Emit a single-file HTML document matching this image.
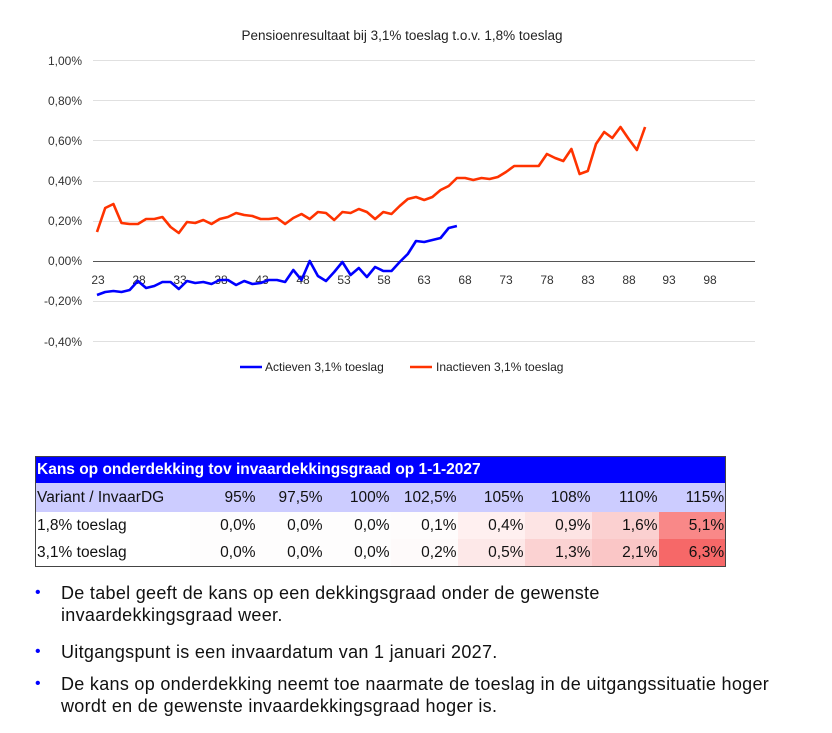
<!DOCTYPE html>
<html><head><meta charset="utf-8"><style>
body{margin:0;background:#fff;width:832px;height:733px;position:relative;overflow:hidden;font-family:"Liberation Sans",sans-serif;}
svg{position:absolute;left:0;top:0}
table{position:absolute;left:35px;top:456px;width:690px;table-layout:fixed;border-collapse:collapse;border:1px solid #444;font-size:15.5px;color:#111}
td{padding:0 1px 0 0;text-align:right;height:27px;white-space:nowrap;overflow:hidden}
td:first-child{text-align:left;padding-left:1px}
.h td{background:#0000ff;color:#fff;font-weight:bold;text-align:left;height:26px;font-size:15.5px}
.s td{background:#ccccff;height:29px}
.b{position:absolute;left:61px;font-size:18px;color:#111;line-height:22px;letter-spacing:0.3px;white-space:nowrap}
.b:before{content:"•";position:absolute;left:-26px;top:0;color:#0000ff;font-size:16px}
</style></head><body>
<svg width="832" height="440" font-family="Liberation Sans, sans-serif">
<text x="402" y="40" text-anchor="middle" font-size="13.5" fill="#222">Pensioenresultaat bij 3,1% toeslag t.o.v. 1,8% toeslag</text>
<g stroke="#e0e0e0" stroke-width="1">
<line x1="93" x2="755" y1="60.5" y2="60.5"/><line x1="93" x2="755" y1="100.5" y2="100.5"/><line x1="93" x2="755" y1="140.5" y2="140.5"/><line x1="93" x2="755" y1="181.5" y2="181.5"/><line x1="93" x2="755" y1="221.5" y2="221.5"/><line x1="93" x2="755" y1="301.5" y2="301.5"/><line x1="93" x2="755" y1="341.5" y2="341.5"/>
</g>
<line x1="93" x2="755" y1="261.5" y2="261.5" stroke="#555" stroke-width="1"/>
<g font-size="12" fill="#333" text-anchor="end">
<text x="82" y="65">1,00%</text><text x="82" y="105">0,80%</text><text x="82" y="145">0,60%</text><text x="82" y="185">0,40%</text><text x="82" y="225">0,20%</text><text x="82" y="265">0,00%</text><text x="82" y="305">-0,20%</text><text x="82" y="346">-0,40%</text>
</g>
<g font-size="12" fill="#333" text-anchor="middle">
<text x="98" y="284">23</text><text x="139" y="284">28</text><text x="180" y="284">33</text><text x="221" y="284">38</text><text x="262" y="284">43</text><text x="303" y="284">48</text><text x="344" y="284">53</text><text x="384" y="284">58</text><text x="424" y="284">63</text><text x="465" y="284">68</text><text x="506" y="284">73</text><text x="547" y="284">78</text><text x="588" y="284">83</text><text x="629" y="284">88</text><text x="669" y="284">93</text><text x="710" y="284">98</text>
</g>
<polyline fill="none" stroke="#ff3300" stroke-width="2.6" stroke-linejoin="round" points="97,232 105.2,208 113.4,204 121.5,223 129.7,224 137.9,224 146.1,219 154.3,219 162.4,217 170.6,227 178.8,233 187,222 195.2,223 203.3,220 211.5,224 219.7,219 227.9,217 236.1,213 244.2,215 252.4,216 260.6,219 268.8,219 277,218 285.1,224 293.3,218 301.5,214 309.7,219 317.9,212 326,213 334.2,220 342.4,212 350.6,213 358.8,209 366.9,212 375.1,219 383.3,212 391.5,214 399.7,206 407.8,199 416,197 424.2,200 432.4,197 440.6,190 448.7,186 456.9,178 465.1,178 473.3,180 481.5,178 489.6,179 497.8,177 506,172 514.2,166 522.4,166 530.5,166 538.7,166 546.9,154 555.1,158 563.3,161 571.4,149 579.6,174 587.8,171 596,144 604.2,132 612.3,138 620.5,127 628.7,139 636.9,150 645.1,127"/>
<polyline fill="none" stroke="#0000ff" stroke-width="2.6" stroke-linejoin="round" points="97,295 105.2,292 113.4,291 121.5,292 129.7,290 137.9,281 146.1,288 154.3,286 162.4,282 170.6,282 178.8,289 187,281 195.2,283 203.3,282 211.5,284 219.7,280 227.9,280 236.1,285 244.2,281 252.4,284 260.6,283 268.8,280 277,280 285.1,282 293.3,270 301.5,280 309.7,261 317.9,276 326,281 334.2,272 342.4,262 350.6,275 358.8,268 366.9,277 375.1,267 383.3,271 391.5,271 399.7,262 407.8,254 416,241 424.2,242 432.4,240 440.6,238 448.7,228 456.9,226"/>
<line x1="240" x2="262" y1="367" y2="367" stroke="#0000ff" stroke-width="2.6"/>
<text x="265" y="371" font-size="12" fill="#222">Actieven 3,1% toeslag</text>
<line x1="410" x2="432" y1="367" y2="367" stroke="#ff3300" stroke-width="2.6"/>
<text x="436" y="371" font-size="12" fill="#222">Inactieven 3,1% toeslag</text>
</svg>
<table>
<colgroup><col style="width:154px"><col style="width:67px"><col style="width:67px"><col style="width:67px"><col style="width:67px"><col style="width:67px"><col style="width:67px"><col style="width:67px"><col style="width:67px"></colgroup>
<tr class="h"><td colspan="9">Kans op onderdekking tov invaardekkingsgraad op 1-1-2027</td></tr>
<tr class="s"><td>Variant / InvaarDG</td><td>95%</td><td>97,5%</td><td>100%</td><td>102,5%</td><td>105%</td><td>108%</td><td>110%</td><td>115%</td></tr>
<tr><td>1,8% toeslag</td><td style="background:#fefdfd">0,0%</td><td style="background:#fefdfd">0,0%</td><td style="background:#fefdfd">0,0%</td><td style="background:#fefcfc">0,1%</td><td style="background:#fff0f0">0,4%</td><td style="background:#fde4e4">0,9%</td><td style="background:#fbd0d0">1,6%</td><td style="background:#f98888">5,1%</td></tr>
<tr><td>3,1% toeslag</td><td style="background:#fefdfd">0,0%</td><td style="background:#fefdfd">0,0%</td><td style="background:#fefdfd">0,0%</td><td style="background:#fefafa">0,2%</td><td style="background:#fde8e8">0,5%</td><td style="background:#fbd2d2">1,3%</td><td style="background:#fac6c6">2,1%</td><td style="background:#f66868">6,3%</td></tr>
</table>
<div class="b" style="top:582px">De tabel geeft de kans op een dekkingsgraad onder de gewenste<br>invaardekkingsgraad weer.</div>
<div class="b" style="top:641px">Uitgangspunt is een invaardatum van 1 januari 2027.</div>
<div class="b" style="top:673px">De kans op onderdekking neemt toe naarmate de toeslag in de uitgangssituatie hoger<br>wordt en de gewenste invaardekkingsgraad hoger is.</div>
</body></html>
